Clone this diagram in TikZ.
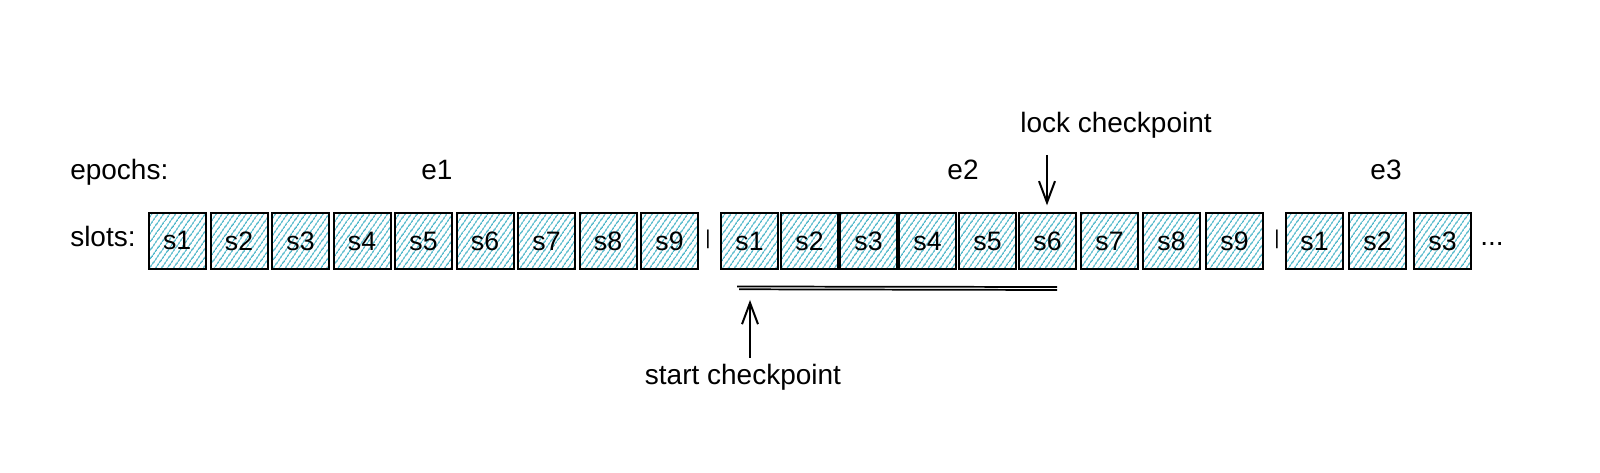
\documentclass[tikz,border=0pt]{standalone}
\usepackage{fontspec}
\setmainfont{Liberation Sans}
\usetikzlibrary{patterns.meta,arrows.meta}
\definecolor{hatch}{RGB}{70,180,200}
\begin{document}
\begin{tikzpicture}[x=0.75pt,y=-0.75pt,
  slot/.style={draw=black,line width=1.6pt,minimum width=42.75pt,minimum height=42pt,
    inner sep=0pt,anchor=north west,
    pattern={Lines[angle=55,distance=4pt,line width=1.1pt]},pattern color=hatch,
    font=\fontsize{20}{24}\selectfont},
  lbl/.style={font=\fontsize{21}{25}\selectfont,inner sep=0pt},
  sepmark/.style={font=\fontsize{15}{18}\selectfont,inner sep=0pt},
  arr/.style={line width=1.5pt,-{Straight Barb[length=16pt,width=12pt]}},
  uline/.style={line width=1.3pt}]
\fill[white] (0,0) rectangle (1600,473);
\useasboundingbox (0,0) rectangle (1600,473);
% epoch 1 slots
\foreach \x [count=\i] in {148,209.5,271,332.5,394,455.5,517,578.5,640}
  \node[slot] (a\i) at (\x,212) {s\i};
% epoch 2 slots
\foreach \x [count=\i] in {720,780,839,898,958,1018,1080,1142,1205}
  \node[slot] (b\i) at (\x,212) {s\i};
% epoch 3 slots
\foreach \x [count=\i] in {1285,1348,1413}
  \node[slot] (c\i) at (\x,212) {s\i};
% separators
\node[sepmark] (sep1) at (708,239) {|};
\node[sepmark] (sep2) at (1277,239) {|};
\node[lbl,anchor=base west] (dots) at (1480,246) {...};
% labels
\node[lbl,anchor=base west] (epochs) at (70,180) {epochs:};
\node[lbl,anchor=base west] (slots) at (70,247) {slots:};
\node[lbl,anchor=base] (e1) at (437,180) {e1};
\node[lbl,anchor=base] (e2) at (963,180) {e2};
\node[lbl,anchor=base] (e3) at (1386,180) {e3};
\node[lbl,anchor=base] (lock) at (1116,133) {lock checkpoint};
\node[lbl,anchor=base] (start) at (743,385) {start checkpoint};
% lock arrow
\coordinate (lt) at (1047,155);
\draw[arr,shorten >=5pt] (lt) -- (lt |- b6.north);
% underline
\coordinate (u1) at (737,286.5);
\coordinate (u2) at (1057,287);
\coordinate (u3) at (739,289.3);
\coordinate (u4) at (1057,290);
\draw[uline] (u1) -- (u2);
\draw[uline] (u3) -- (u4);
% start arrow
\coordinate (st) at (750,358);
\coordinate (sh) at (750,300);
\draw[arr] (st) -- (sh);
\end{tikzpicture}
\end{document}
